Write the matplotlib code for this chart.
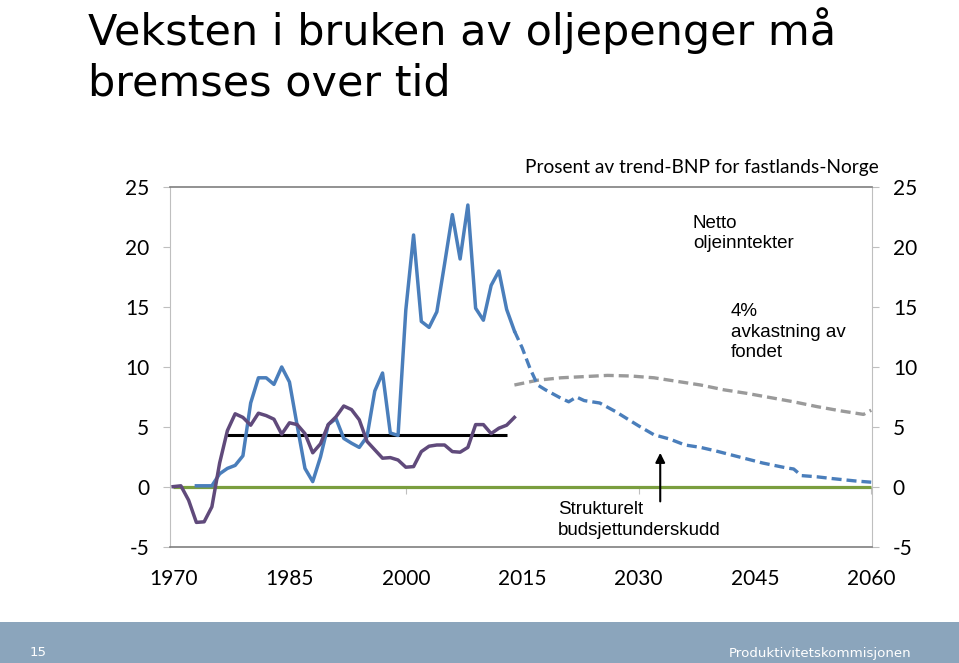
import matplotlib.pyplot as plt
from matplotlib.patches import Rectangle

# historiske tall (prosent av trend-BNP for fastlands-Norge)
aar_blaa = list(range(1973, 2015))
netto_olje = [0.1, 0.1, 0.1, 1.1, 1.55, 1.8, 2.6, 7.0, 9.1, 9.1, 8.55, 10.0, 8.75, 5.1,
              1.55, 0.45, 2.5, 5.2, 5.7, 4.05, 3.65, 3.3, 4.2, 8.0, 9.5, 4.5, 4.3,
              14.75, 21.0, 13.8, 13.3, 14.6, 18.6, 22.7, 19.0, 23.5, 14.9, 13.9, 16.8,
              18.0, 14.8, 13.0]

aar_lilla = list(range(1970, 2015))
strukturelt = [0.03, 0.1, -1.1, -2.95, -2.9, -1.65, 2.0, 4.7, 6.1, 5.8, 5.15, 6.15, 5.95,
               5.65, 4.4, 5.35, 5.2, 4.45, 2.85, 3.6, 5.2, 5.85, 6.75, 6.45, 5.6, 3.8,
               3.1, 2.4, 2.45, 2.25, 1.65, 1.7, 2.95, 3.4, 3.5, 3.5, 2.95, 2.9, 3.3,
               5.2, 5.2, 4.45, 4.9, 5.15, 5.8]

# framskrivinger
aar_fram = [2014, 2015, 2016, 2017, 2018, 2020, 2021, 2022, 2023, 2025, 2027, 2030, 2032,
            2034, 2036, 2038, 2040, 2043, 2046, 2049, 2050, 2051, 2053, 2055, 2058, 2060]
netto_olje_fram = [13.0, 11.6, 9.9, 8.5, 8.1, 7.4, 7.1, 7.5, 7.2, 7.0, 6.3, 5.1, 4.35,
                   4.0, 3.5, 3.3, 3.0, 2.5, 2.0, 1.6, 1.5, 0.95, 0.85, 0.7, 0.5, 0.4]

aar_grå = [2014, 2017, 2020, 2023, 2026, 2029, 2032, 2035, 2038, 2041, 2044, 2047, 2050,
           2053, 2056, 2059, 2060]
avkastning = [8.5, 8.9, 9.1, 9.2, 9.3, 9.25, 9.1, 8.8, 8.5, 8.1, 7.8, 7.45, 7.1, 6.7,
              6.35, 6.05, 6.4]

handlingsregel_aar = [1977, 2013]
handlingsregel = [4.3, 4.3]

null_aar = [1970, 2060]
null = [0, 0]

x_ticks = [1970, 1985, 2000, 2015, 2030, 2045, 2060]
y_ticks = [-5, 0, 5, 10, 15, 20, 25]

fig = plt.figure(figsize=(9.59, 6.63), dpi=100)
W, H = 959, 663

# tittel på lysbildet
fig.text(88 / W, 1 - 45 / H, 'Veksten i bruken av oljepenger må', fontsize=31,
         family='DejaVu Sans', va='baseline', ha='left')
fig.text(88 / W, 1 - 95 / H, 'bremses over tid', fontsize=31,
         family='DejaVu Sans', va='baseline', ha='left')

# bunnlinje
fig.patches.append(Rectangle((0, 0), 1, 41 / H, transform=fig.transFigure,
                             facecolor='#8BA5BC', edgecolor='none'))
fig.text(30 / W, 1 - 653 / H, '15', fontsize=9.6, color='white', va='center',
         family='DejaVu Sans')
fig.text(911 / W, 1 - 653 / H, 'Produktivitetskommisjonen', fontsize=9.6, color='white',
         va='center', ha='right', family='DejaVu Sans')

ax = fig.add_axes([170 / W, 1 - 547 / H, (872 - 170) / W, (547 - 187) / H])

ax.plot(null_aar, null, color='#7A9E3E', lw=2.3, solid_capstyle='butt')
ax.plot(handlingsregel_aar, handlingsregel, color='black', lw=2.2, solid_capstyle='butt')
ax.plot(aar_grå, avkastning, color='#9A9A9A', lw=2.4, dashes=(3, 1.5))
ax.plot(aar_fram, netto_olje_fram, color='#4A7EBB', lw=2.4, dashes=(3, 1.5))
ax.plot(aar_blaa, netto_olje, color='#4A7EBB', lw=2.5)
ax.plot(aar_lilla, strukturelt, color='#604A7B', lw=2.5)

ax.set_xlim(1969.6, 2060.1)
ax.set_ylim(-5, 25)

for s in ['left', 'right']:
    ax.spines[s].set_color('#BFBFBF')
for s in ['top', 'bottom']:
    ax.spines[s].set_color('#7F7F7F')
    ax.spines[s].set_linewidth(1.2)

tick_font = dict(family='Lato', size=15)
ax.set_yticks(y_ticks)
ax.set_yticklabels([str(v) for v in y_ticks], **tick_font)
ax.tick_params(axis='y', length=5, color='#BFBFBF', pad=10, right=True, labelright=True)
for t in ax.yaxis.get_major_ticks():
    t.label2.set_fontfamily('Lato')
    t.label2.set_fontsize(15)

ax.set_xticks(x_ticks)
ax.set_xticklabels([str(v) for v in x_ticks], **tick_font)
ax.tick_params(axis='x', length=0, pad=16)

# små streker på nullinjen
sec = ax.secondary_xaxis(1 / 6)
sec.set_xticks([2000, 2030, 2060])
sec.tick_params(length=5, color='#BFBFBF', labelbottom=False)
sec.spines['bottom'].set_visible(False)

ax.text(2060.1 + 0.9, 26.6, 'Prosent av trend-BNP for fastlands-Norge', ha='right',
        va='center', family='Lato', fontsize=13.8)

txt = dict(family='Liberation Sans', fontsize=13.5, va='top', ha='left', linespacing=1.27)
ax.text(2037.0, 22.7, 'Netto\noljeinntekter', **txt)
ax.text(2041.9, 15.3, '4%\navkastning av\nfondet', **txt)
ax.text(2019.6, -1.2, 'Strukturelt\nbudsjettunderskudd', **txt)

ax.annotate('', xy=(2032.8, 2.85), xytext=(2032.8, -1.2),
            arrowprops=dict(arrowstyle='-|>', color='black', lw=1.5, mutation_scale=14,
                            shrinkA=0, shrinkB=0))

fig.savefig('out.png', dpi=100)
